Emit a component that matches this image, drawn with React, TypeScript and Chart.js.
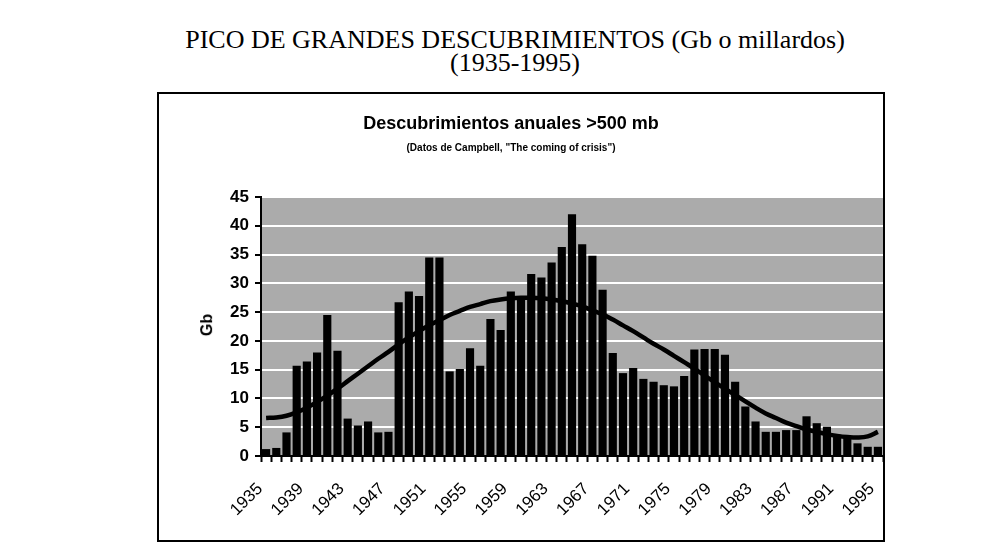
import React, { useEffect, useRef } from "react";
import { Chart, registerables } from "chart.js";

Chart.register(...registerables);

const years = [
  "1935", "1936", "1937", "1938", "1939", "1940", "1941", "1942", "1943", "1944",
  "1945", "1946", "1947", "1948", "1949", "1950", "1951", "1952", "1953", "1954",
  "1955", "1956", "1957", "1958", "1959", "1960", "1961", "1962", "1963", "1964",
  "1965", "1966", "1967", "1968", "1969", "1970", "1971", "1972", "1973", "1974",
  "1975", "1976", "1977", "1978", "1979", "1980", "1981", "1982", "1983", "1984",
  "1985", "1986", "1987", "1988", "1989", "1990", "1991", "1992", "1993", "1994",
  "1995",
];

const discoveries = [
  1.2, 1.4, 4.1, 15.7, 16.4, 18.0, 24.5, 18.3, 6.5, 5.3,
  6.0, 4.1, 4.2, 26.7, 28.6, 27.8, 34.5, 34.5, 14.7, 15.1,
  18.7, 15.7, 23.8, 21.9, 28.6, 27.5, 31.6, 31.0, 33.6, 36.3,
  42.0, 36.8, 34.8, 28.9, 17.9, 14.4, 15.3, 13.4, 12.9, 12.3,
  12.1, 13.9, 18.5, 18.6, 18.6, 17.6, 12.9, 8.6, 6.0, 4.2,
  4.2, 4.5, 4.5, 6.9, 5.7, 5.1, 3.7, 3.1, 2.2, 1.6,
  1.6,
];

const trend = [
  6.6, 6.7, 7.0, 7.6, 8.4, 9.4, 10.5, 11.7, 13.0, 14.3,
  15.6, 16.9, 18.1, 19.4, 20.6, 21.7, 22.7, 23.6, 24.5, 25.2,
  25.9, 26.4, 26.9, 27.2, 27.4, 27.5, 27.5, 27.4, 27.2, 26.9,
  26.5, 26.0, 25.3, 24.6, 23.7, 22.7, 21.7, 20.6, 19.5, 18.5,
  17.4, 16.3, 15.2, 14.0, 12.8, 11.7, 10.6, 9.5, 8.4, 7.4,
  6.6, 5.8, 5.2, 4.6, 4.2, 3.8, 3.5, 3.3, 3.2, 3.4,
  4.2,
];

const shownYears = [
  "1935", "1939", "1943", "1947", "1951", "1955", "1959", "1963",
  "1967", "1971", "1975", "1979", "1983", "1987", "1991", "1995",
];

const yTicks = [0, 5, 10, 15, 20, 25, 30, 35, 40, 45];

const plotBg = {
  id: "plotBg",
  beforeDraw(chart: any) {
    const { ctx, chartArea } = chart;
    ctx.save();
    ctx.fillStyle = "#ababab";
    ctx.fillRect(chartArea.left, chartArea.top, chartArea.right - chartArea.left, chartArea.bottom - chartArea.top);
    ctx.restore();
  },
};

function DiscoveryChart() {
  const ref = useRef<HTMLCanvasElement | null>(null);
  useEffect(() => {
    if (!ref.current) return;
    const chart = new Chart(ref.current, {
      type: "bar",
      data: {
        labels: years,
        datasets: [
          {
            type: "line",
            data: trend,
            borderColor: "#000",
            borderWidth: 4.5,
            pointRadius: 0,
            tension: 0.4,
            order: 0,
          } as any,
          {
            type: "bar",
            data: discoveries,
            backgroundColor: "#000",
            borderWidth: 0,
            barPercentage: 0.8,
            categoryPercentage: 1,
            order: 1,
          },
        ],
      },
      options: {
        animation: false,
        responsive: false,
        maintainAspectRatio: false,
        layout: { padding: { left: 0, right: 0, top: 103, bottom: 0 } },
        plugins: { legend: { display: false }, title: { display: false }, tooltip: { enabled: false } },
        scales: {
          x: {
            offset: true,
            grid: {
              offset: true,
              drawOnChartArea: false,
              drawTicks: true,
              tickLength: 6,
              color: "#000",
              tickColor: "#000",
              tickWidth: 2,
            },
            border: { display: true, color: "#000", width: 2 },
            ticks: {
              autoSkip: false,
              maxRotation: 45,
              minRotation: 45,
              padding: 17,
              labelOffset: -6,
              color: "#000",
              font: { family: "'Liberation Sans', Arial, sans-serif", size: 17 },
              callback: (_v: any, i: number) => (shownYears.includes(years[i]) ? years[i] : ""),
            },
            afterFit: (s: any) => {
              s.height = 84;
              s.paddingLeft = 0;
              s.paddingRight = 0;
            },
          },
          y: {
            min: 0,
            max: 45,
            afterBuildTicks: (s: any) => {
              s.ticks = yTicks.map((v) => ({ value: v }));
            },
            grid: {
              color: "#ffffff",
              lineWidth: 2,
              tickColor: "#000",
              tickLength: 6,
              tickWidth: 2,
            },
            border: { display: true, color: "#000", width: 2 },
            ticks: {
              padding: 6,
              color: "#000",
              font: { family: "'Liberation Sans', Arial, sans-serif", size: 17, weight: "bold" },
            },
            afterFit: (s: any) => {
              s.width = 102;
              s.paddingTop = 0;
              s.paddingBottom = 0;
            },
          },
        },
      },
      plugins: [plotBg],
    });
    return () => chart.destroy();
  }, []);
  return <canvas ref={ref} width={724} height={446} style={{ display: "block" }} />;
}

export default function App() {
  return (
    <div style={{ position: "relative", width: 983, height: 539 }}>
      <div
        style={{
          position: "absolute",
          left: 0,
          width: 1014,
          top: 20,
          textAlign: "center",
          fontFamily: "'Liberation Serif', 'Times New Roman', serif",
          fontSize: 26,
          lineHeight: "23px",
          color: "#000",
        }}
      >
        PICO DE GRANDES DESCUBRIMIENTOS (Gb o millardos)
        <br />
        (1935-1995)
      </div>
      <div
        style={{
          position: "absolute",
          left: 149,
          top: 84,
          width: 724,
          height: 446,
          border: "2px solid #000",
        }}
      >
        <DiscoveryChart />
        <div
          style={{
            position: "absolute",
            left: 0,
            width: 704,
            top: 19,
            textAlign: "center",
            fontFamily: "'Liberation Sans', Arial, sans-serif",
            fontWeight: "bold",
            fontSize: 18,
          }}
        >
          Descubrimientos anuales &gt;500 mb
        </div>
        <div
          style={{
            position: "absolute",
            left: 0,
            width: 704,
            top: 48,
            textAlign: "center",
            fontFamily: "'Liberation Sans', Arial, sans-serif",
            fontWeight: "bold",
            fontSize: 10,
          }}
        >
          (Datos de Campbell, "The coming of crisis")
        </div>
        <div
          style={{
            position: "absolute",
            left: 37,
            top: 222,
            transform: "rotate(-90deg)",
            transformOrigin: "center",
            fontFamily: "'Liberation Sans', Arial, sans-serif",
            fontWeight: "bold",
            fontSize: 16,
          }}
        >
          Gb
        </div>
      </div>
    </div>
  );
}
